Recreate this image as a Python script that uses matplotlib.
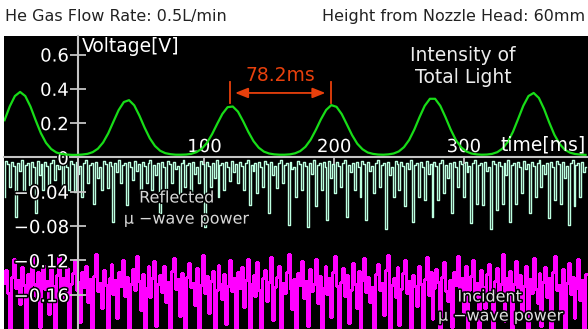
import numpy as np
import matplotlib
matplotlib.use('Agg')
import matplotlib.pyplot as plt
import matplotlib.patheffects as pe
from matplotlib.transforms import blended_transform_factory

# Intensity of total light [V], one sample every 4 ms starting at -54 ms
light_t0, light_dt = -54, 4
light = [0.217, 0.297, 0.358, 0.382, 0.358, 0.297, 0.217, 0.142, 0.085, 0.049,
         0.029, 0.020, 0.017, 0.015, 0.015, 0.017, 0.021, 0.031, 0.051, 0.087,
         0.141, 0.209, 0.276, 0.323, 0.334, 0.304, 0.244, 0.174, 0.112, 0.067,
         0.039, 0.025, 0.019, 0.016, 0.016, 0.017, 0.021, 0.031, 0.050, 0.084,
         0.135, 0.196, 0.254, 0.293, 0.297, 0.267, 0.211, 0.149, 0.095, 0.057,
         0.034, 0.023, 0.018, 0.016, 0.016, 0.018, 0.024, 0.037, 0.062, 0.103,
         0.160, 0.223, 0.277, 0.305, 0.295, 0.253, 0.192, 0.130, 0.080, 0.048,
         0.029, 0.021, 0.017, 0.016, 0.018, 0.023, 0.035, 0.060, 0.102, 0.163,
         0.235, 0.301, 0.342, 0.342, 0.301, 0.235, 0.163, 0.102, 0.060, 0.035,
         0.023, 0.018, 0.016, 0.017, 0.021, 0.031, 0.052, 0.090, 0.149, 0.224,
         0.301, 0.358, 0.376, 0.347, 0.283, 0.204, 0.132, 0.079, 0.045, 0.028,
         0.020, 0.017, 0.015]

# microwave power traces [V], one sample every 1.5 ms starting at -54 ms
wave_t0, wave_dt = -54, 1.5
reflected = [
    -0.046, -0.004, -0.008, -0.034, -0.005, -0.010, -0.069, -0.006, -0.016, -0.003,
    -0.042, -0.009, -0.007, -0.032, -0.005, -0.011, -0.065, -0.004, -0.021, -0.008,
    -0.038, -0.005, -0.010, -0.034, -0.006, -0.003, -0.026, -0.009, -0.014, -0.007,
    -0.034, -0.005, -0.011, -0.038, -0.004, -0.008, -0.040, -0.005, -0.019, -0.010,
    -0.046, -0.006, -0.003, -0.030, -0.009, -0.007, -0.054, -0.005, -0.024, -0.011,
    -0.038, -0.004, -0.008, -0.036, -0.005, -0.010, -0.075, -0.006, -0.017, -0.003,
    -0.030, -0.009, -0.007, -0.055, -0.005, -0.011, -0.026, -0.004, -0.016, -0.008,
    -0.042, -0.005, -0.010, -0.030, -0.006, -0.003, -0.038, -0.009, -0.021, -0.007,
    -0.065, -0.005, -0.011, -0.038, -0.004, -0.008, -0.030, -0.005, -0.014, -0.010,
    -0.050, -0.006, -0.003, -0.034, -0.009, -0.007, -0.040, -0.005, -0.019, -0.011,
    -0.030, -0.004, -0.008, -0.081, -0.005, -0.010, -0.034, -0.006, -0.024, -0.003,
    -0.046, -0.009, -0.007, -0.038, -0.005, -0.011, -0.028, -0.004, -0.017, -0.008,
    -0.030, -0.005, -0.010, -0.038, -0.006, -0.003, -0.055, -0.009, -0.016, -0.007,
    -0.042, -0.005, -0.011, -0.034, -0.004, -0.008, -0.065, -0.005, -0.021, -0.010,
    -0.036, -0.006, -0.003, -0.030, -0.009, -0.007, -0.079, -0.005, -0.014, -0.011,
    -0.046, -0.004, -0.008, -0.038, -0.005, -0.010, -0.081, -0.006, -0.019, -0.003,
    -0.057, -0.009, -0.007, -0.038, -0.005, -0.011, -0.073, -0.004, -0.024, -0.008,
    -0.042, -0.005, -0.010, -0.034, -0.006, -0.003, -0.069, -0.009, -0.017, -0.007,
    -0.038, -0.005, -0.011, -0.046, -0.004, -0.008, -0.073, -0.005, -0.016, -0.010,
    -0.042, -0.006, -0.003, -0.034, -0.009, -0.007, -0.083, -0.005, -0.021, -0.011,
    -0.046, -0.004, -0.008, -0.038, -0.005, -0.010, -0.057, -0.006, -0.014, -0.003,
    -0.075, -0.009, -0.007, -0.046, -0.005, -0.011, -0.050, -0.004, -0.019, -0.008,
    -0.069, -0.005, -0.010, -0.050, -0.006, -0.003, -0.042, -0.009, -0.024, -0.007,
    -0.065, -0.005, -0.011, -0.034, -0.004, -0.008, -0.046, -0.005, -0.017, -0.010,
    -0.077, -0.006, -0.003, -0.054, -0.009, -0.007, -0.055, -0.005, -0.016, -0.011,
    -0.083, -0.004, -0.008, -0.061, -0.005, -0.010, -0.054, -0.006, -0.021, -0.003,
    -0.075, -0.009, -0.007, -0.054, -0.005, -0.011, -0.042, -0.004, -0.014, -0.008,
    -0.065, -0.005, -0.010, -0.046, -0.006, -0.003, -0.034, -0.009, -0.019, -0.007,
    -0.071, -0.005, -0.011, -0.050, -0.004, -0.008, -0.054, -0.005, -0.024, -0.010,
    -0.079, -0.006, -0.003, -0.057, -0.009, -0.007, -0.046, -0.005, -0.017, -0.011]
incident = [
    -0.146, -0.131, -0.158, -0.205, -0.139, -0.118, -0.152, -0.143, -0.171, -0.128,
    -0.149, -0.212, -0.136, -0.155, -0.114, -0.147, -0.162, -0.133, -0.198, -0.141,
    -0.125, -0.153, -0.144, -0.183, -0.130, -0.150, -0.215, -0.137, -0.116, -0.157,
    -0.140, -0.166, -0.129, -0.202, -0.148, -0.135, -0.120, -0.154, -0.145, -0.192,
    -0.133, -0.151, -0.127, -0.169, -0.142, -0.208, -0.138, -0.113, -0.156, -0.146,
    -0.175, -0.131, -0.149, -0.218, -0.140, -0.124, -0.159, -0.143, -0.187, -0.134,
    -0.150, -0.119, -0.161, -0.139, -0.204, -0.147, -0.130, -0.155, -0.115, -0.144,
    -0.178, -0.136, -0.210, -0.152, -0.127, -0.163, -0.141, -0.121, -0.196, -0.148,
    -0.137, -0.157, -0.126, -0.168, -0.145, -0.213, -0.132, -0.117, -0.153, -0.142,
    -0.185, -0.135, -0.160, -0.200, -0.139, -0.123, -0.151, -0.146, -0.172, -0.129,
    -0.206, -0.149, -0.114, -0.158, -0.138, -0.181, -0.144, -0.132, -0.216, -0.154,
    -0.125, -0.147, -0.165, -0.136, -0.194, -0.150, -0.119, -0.156, -0.141, -0.209,
    -0.134, -0.152, -0.128, -0.174, -0.143, -0.118, -0.199, -0.148, -0.137, -0.162,
    -0.122, -0.155, -0.211, -0.140, -0.131, -0.167, -0.145, -0.116, -0.189, -0.151,
    -0.139, -0.126, -0.207, -0.146, -0.158, -0.133, -0.113, -0.153, -0.177, -0.142,
    -0.214, -0.135, -0.149, -0.121, -0.164, -0.144, -0.197, -0.130, -0.156, -0.147,
    -0.118, -0.170, -0.138, -0.203, -0.152, -0.127, -0.159, -0.141, -0.186, -0.134,
    -0.115, -0.150, -0.217, -0.145, -0.129, -0.161, -0.137, -0.193, -0.154, -0.123,
    -0.148, -0.176, -0.132, -0.210, -0.143, -0.117, -0.157, -0.139, -0.168, -0.151,
    -0.201, -0.136, -0.124, -0.155, -0.146, -0.184, -0.131, -0.114, -0.208, -0.149,
    -0.140, -0.163, -0.128, -0.195, -0.153, -0.135, -0.120, -0.158, -0.144, -0.219,
    -0.137, -0.150, -0.173, -0.126, -0.147, -0.205, -0.142, -0.116, -0.160, -0.134,
    -0.188, -0.152, -0.130, -0.145, -0.212, -0.139, -0.122, -0.156, -0.167, -0.143,
    -0.198, -0.133, -0.149, -0.115, -0.159, -0.141, -0.180, -0.127, -0.206, -0.154,
    -0.138, -0.119, -0.162, -0.146, -0.215, -0.131, -0.151, -0.176, -0.136, -0.124,
    -0.157, -0.202, -0.144, -0.129, -0.165, -0.148, -0.113, -0.191, -0.140, -0.155,
    -0.132, -0.209, -0.147, -0.121, -0.160, -0.137, -0.183, -0.150, -0.126, -0.214,
    -0.142, -0.158, -0.117, -0.153, -0.170, -0.135, -0.196, -0.145, -0.128, -0.163,
    -0.141, -0.204, -0.134, -0.115, -0.154, -0.149, -0.178, -0.130, -0.218, -0.146,
    -0.123, -0.159, -0.139, -0.187, -0.152, -0.118, -0.166, -0.143, -0.200, -0.136]

yticks = [-0.16, -0.12, -0.08, -0.04, 0, 0.2, 0.4, 0.6]
ytick_labels = ['\u22120.16', '\u22120.12', '\u22120.08', '\u22120.04', '0', '0.2', '0.4', '0.6']
xticks = [100, 200, 300]

# period marker between two light peaks
period_from = 119.5
period_ms = 78.2

plt.rcParams['font.family'] = 'DejaVu Sans'

t_light = light_t0 + light_dt * np.arange(len(light))
t_wave = wave_t0 + wave_dt * np.arange(len(reflected))


# negative half of the voltage axis is stretched 5x
def fwd(y):
    y = np.asarray(y, dtype=float)
    return np.where(y < 0, 5 * y, y)


def inv(y):
    y = np.asarray(y, dtype=float)
    return np.where(y < 0, y / 5, y)


fig = plt.figure(figsize=(5.88, 3.29), dpi=100, facecolor='white')
ax = fig.add_axes([4 / 588, 0, 584 / 588, 293 / 329])
ax.set_facecolor('black')
ax.set_yscale('function', functions=(fwd, inv))
ax.set_axisbelow(False)

ax.plot(t_wave, incident, color='#ff00ff', lw=1.0, drawstyle='steps-mid',
        antialiased=False, zorder=2)
ax.plot(t_wave, reflected, color='#bcffe0', lw=1.0, drawstyle='steps-mid', zorder=2)
ax.plot(t_light, light, color='#18dd18', lw=1.6, zorder=3)

ax.set_xlim(-54.4, 395.9)
ax.set_ylim(-0.2, 0.708)

grey = '#c4c4c4'
for s in ['bottom', 'right']:
    ax.spines[s].set_visible(False)
ax.spines['left'].set_position(('axes', 0.126))
ax.spines['top'].set_position(('data', 0))
for s in ['left', 'top']:
    ax.spines[s].set_color(grey)
    ax.spines[s].set_linewidth(1.5)

outline = [pe.withStroke(linewidth=2.2, foreground='black')]

ax.set_yticks(yticks)
ax.set_yticklabels(ytick_labels)
ax.minorticks_off()
ax.tick_params(axis='y', direction='inout', length=11, width=1.3, color=grey,
               labelcolor='white', labelsize=13, pad=1)

ax.xaxis.tick_top()
ax.set_xticks(xticks)
ax.set_xticklabels([str(v) for v in xticks])
ax.tick_params(axis='x', direction='in', length=5, width=1.3, color=grey,
               labelcolor='white', labelsize=13, pad=1)

ax.text(0.134, 0.995, 'Voltage[V]', transform=ax.transAxes, color='white',
        fontsize=13.5, ha='left', va='top')
xtrans = blended_transform_factory(ax.transAxes, ax.transData)
ax.text(0.997, 0.02, 'time[ms]', transform=xtrans, color='white',
        fontsize=13.5, ha='right', va='bottom')

ax.text(0.786, 0.935, 'Intensity of', transform=ax.transAxes, color='#ececec',
        fontsize=13.5, ha='center', va='center')
ax.text(0.786, 0.860, 'Total Light', transform=ax.transAxes, color='#ececec',
        fontsize=13.5, ha='center', va='center')

# period annotation
red = '#e8400c'
for x in [period_from, period_from + period_ms]:
    ax.plot([x, x], [0.318, 0.44], color=red, lw=1.3, zorder=4)
ax.annotate('', xy=(period_from, 0.376), xytext=(period_from + period_ms, 0.376),
            arrowprops=dict(arrowstyle='<|-|>,head_length=0.55,head_width=0.22',
                            color=red, lw=1.3, shrinkA=4, shrinkB=4,
                            mutation_scale=14), zorder=4)
ax.text(period_from + period_ms / 2, 0.48, '%.1fms' % period_ms, color=red,
        fontsize=13.5, ha='center', va='center')

ax.text(0.296, 0.447, 'Reflected', transform=ax.transAxes, color='#d8d8d8',
        fontsize=11.5, ha='center', va='center', path_effects=outline, zorder=5)
ax.text(0.313, 0.375, '\u03bc \u2212wave power', transform=ax.transAxes,
        color='#d8d8d8', fontsize=11.5, ha='center', va='center',
        path_effects=outline, zorder=5)
ax.text(0.832, 0.109, 'Incident', transform=ax.transAxes, color='#e0e0e0',
        fontsize=11.5, ha='center', va='center', path_effects=outline, zorder=5)
ax.text(0.851, 0.044, '\u03bc \u2212wave power', transform=ax.transAxes,
        color='#e0e0e0', fontsize=11.5, ha='center', va='center',
        path_effects=outline, zorder=5)

fig.text(5 / 588, 1 - 17 / 329, 'He Gas Flow Rate: 0.5L/min', color='#222222',
         fontsize=11.5, ha='left', va='center')
fig.text(585 / 588, 1 - 17 / 329, 'Height from Nozzle Head: 60mm', color='#222222',
         fontsize=11.5, ha='right', va='center')

# outline the tick labels once the ticks exist
fig.canvas.draw()
for lab in ax.get_yticklabels() + ax.get_xticklabels():
    lab.set_path_effects(outline)

fig.savefig('out.png', dpi=100, facecolor='white')
